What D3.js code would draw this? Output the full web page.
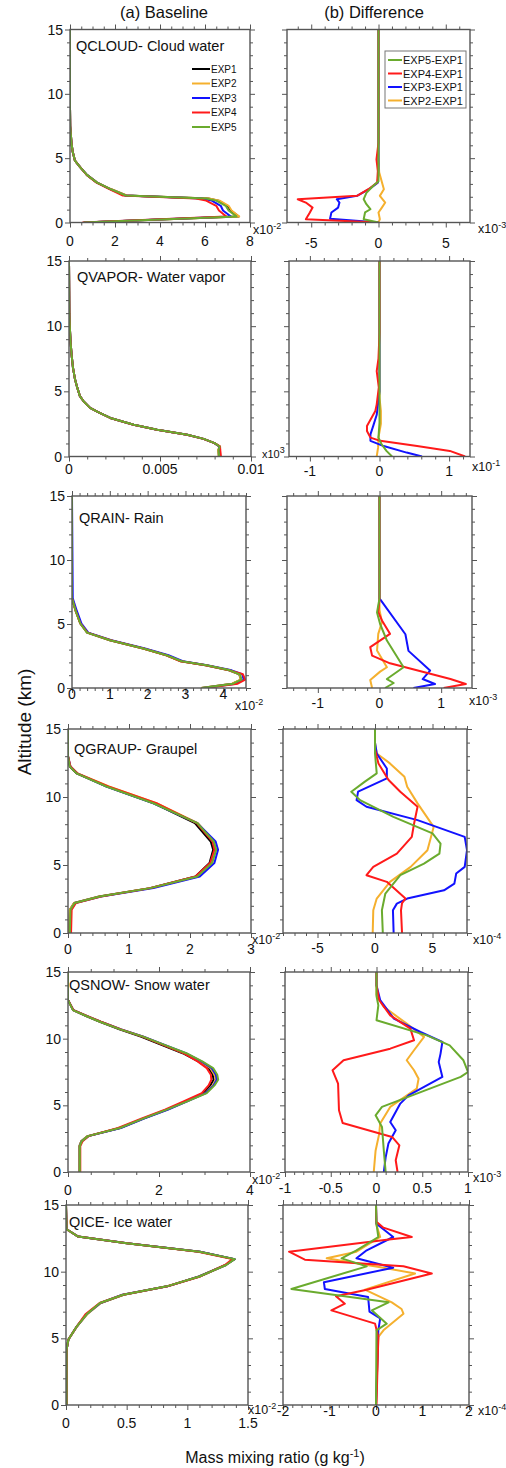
<!DOCTYPE html>
<html>
<head>
<meta charset="utf-8">
<script src="https://cdn.jsdelivr.net/npm/d3@7"></script>
<style>
  body { margin: 0; background: #fff; }
  svg { display: block; }
  text { font-family: "Liberation Sans", Arial, Helvetica, sans-serif; fill: #111; }
</style>
</head>
<body>
<div id="chart"></div>
<script>
// ---- data (altitude in km, mixing ratio in axis units) ----
const altTicks = [0, 5, 10, 15];
const expNames = ["EXP1", "EXP2", "EXP3", "EXP4", "EXP5"];
const diffNames = ["EXP5-EXP1", "EXP4-EXP1", "EXP3-EXP1", "EXP2-EXP1"];

// QCLOUD baseline (x10^-2)
const cloudZ    = [0, 0.47, 0.93, 1.3, 1.7, 1.86, 2.1, 2.6, 3.1, 3.7, 4.3, 4.8, 5.5, 6.1, 7.5, 9, 15];
const cloudExp1 = [0.62, 7.50, 7.15, 7.00, 6.60, 6.15, 2.50, 1.80, 1.20, 0.75, 0.45, 0.22, 0.12, 0.07, 0.01, 0, 0];
const cloudExp2 = [0.62, 7.52, 7.18, 7.05, 6.65, 6.18, 2.52, 1.82, 1.22, 0.75, 0.45, 0.22, 0.12, 0.07, 0.01, 0, 0];
const cloudExp3 = [0.60, 7.15, 6.80, 6.70, 6.30, 5.85, 2.45, 1.78, 1.20, 0.75, 0.45, 0.22, 0.12, 0.07, 0.01, 0, 0];
const cloudExp4 = [0.55, 6.95, 6.62, 6.50, 6.05, 5.60, 2.35, 1.75, 1.18, 0.74, 0.45, 0.22, 0.12, 0.07, 0.01, 0, 0];
const cloudExp5 = [0.60, 7.40, 7.05, 6.92, 6.50, 6.05, 2.48, 1.80, 1.20, 0.75, 0.45, 0.22, 0.12, 0.07, 0.01, 0, 0];
// QCLOUD difference (x10^-3), [altitude, value]
const cloudD5 = [[0,0],[0.26,-1.1],[0.78,-1.0],[1.03,-0.6],[1.42,-0.9],[1.81,-1.1],[2.3,-0.9],[2.84,-0.4],[3.2,0],[15,0]];
const cloudD4 = [[0,0],[0.26,-5.4],[0.78,-5.1],[1.16,-4.9],[1.55,-5.4],[1.81,-6.0],[2.07,-1.6],[2.59,-0.75],[3.1,-0.1],[4.0,-0.05],[4.9,-0.15],[6.2,0],[15,0]];
const cloudD3 = [[0,0],[0.3,-3.6],[0.78,-3.5],[1.16,-3.0],[1.55,-2.9],[1.81,-3.1],[2.07,-1.6],[2.59,-0.7],[3.1,-0.05],[4.5,0],[15,0]];
const cloudD2 = [[0,0],[0.26,0.1],[0.78,0],[1.16,0.25],[1.55,0.5],[2.07,0.1],[2.59,0.4],[3.15,0.25],[3.9,0.05],[5,0],[15,0]];
const cloudTicksA = [0, 2, 4, 6, 8];
const cloudTicksB = [-5, 0, 5];

// QVAPOR baseline (raw axis values)
const vaporZ    = [0, 0.5, 0.77, 1.03, 1.35, 1.67, 2.06, 2.44, 2.96, 3.4, 3.73, 4.2, 4.63, 5.3, 5.92, 6.8, 7.7, 8.7, 9.8, 11, 15];
const vaporExp1 = [0.00823, 0.00821, 0.00827, 0.0080, 0.0074, 0.0065, 0.00485, 0.00356, 0.00227, 0.0016, 0.00116, 0.00082, 0.0006, 0.00045, 0.00033, 0.00022, 0.00015, 0.00009, 0.00005, 0.00002, 0];
const vaporExp2 = [0.00823, 0.00820, 0.00826, 0.0080, 0.0074, 0.0065, 0.00485, 0.00356, 0.00227, 0.0016, 0.00116, 0.00082, 0.0006, 0.00045, 0.00033, 0.00022, 0.00015, 0.00009, 0.00005, 0.00002, 0];
const vaporExp3 = [0.00829, 0.00824, 0.00826, 0.00799, 0.00739, 0.00649, 0.00484, 0.00355, 0.00227, 0.0016, 0.00116, 0.00082, 0.0006, 0.00045, 0.00033, 0.00022, 0.00015, 0.00009, 0.00005, 0.00002, 0];
const vaporExp4 = [0.00835, 0.00831, 0.00830, 0.00799, 0.00738, 0.00648, 0.00483, 0.00354, 0.00226, 0.0016, 0.00116, 0.00082, 0.0006, 0.00045, 0.00033, 0.00022, 0.00015, 0.00009, 0.00005, 0.00002, 0];
const vaporExp5 = [0.00825, 0.00822, 0.00828, 0.0080, 0.0074, 0.0065, 0.00485, 0.00356, 0.00227, 0.0016, 0.00116, 0.00082, 0.0006, 0.00045, 0.00033, 0.00022, 0.00015, 0.00009, 0.00005, 0.00002, 0];
// QVAPOR difference (x10^-1)
const vaporD5 = [[0,0.18],[0.43,0.1],[0.94,0.03],[1.45,-0.015],[2.6,0],[15,0]];
const vaporD4 = [[0,1.23],[0.43,1.01],[0.81,0.54],[1.2,0.01],[1.45,-0.13],[1.96,-0.18],[2.34,-0.18],[3.49,-0.06],[4.0,-0.04],[5.3,-0.01],[6.55,-0.04],[7.5,-0.015],[9.5,0],[15,0]];
const vaporD3 = [[0,0.61],[0.3,0.39],[0.8,0.06],[1.2,-0.13],[1.7,-0.13],[2.35,-0.09],[3.2,-0.04],[5,0],[15,0]];
const vaporD2 = [[0,-0.04],[0.7,-0.02],[1.45,-0.015],[2.5,0.02],[3.5,0.02],[4.5,0],[15,0]];
const vaporTicksA = [0, 0.005, 0.01];
const vaporTicksB = [-1, 0, 1];

// QRAIN baseline (x10^-2)
const rainZ    = [0, 0.34, 0.65, 1.07, 1.38, 1.77, 2.09, 2.56, 3.08, 3.73, 4.33, 5.04, 6.0, 7.0, 15];
const rainExp1 = [3.42, 4.24, 4.47, 4.42, 4.15, 3.53, 2.88, 2.50, 1.88, 1.00, 0.40, 0.22, 0.10, 0, 0];
const rainExp2 = [3.41, 4.23, 4.46, 4.43, 4.16, 3.53, 2.88, 2.50, 1.88, 1.00, 0.40, 0.22, 0.10, 0, 0];
const rainExp3 = [3.48, 4.33, 4.54, 4.50, 4.22, 3.57, 2.93, 2.55, 1.93, 1.04, 0.43, 0.25, 0.13, 0.02, 0];
const rainExp4 = [3.52, 4.38, 4.58, 4.52, 4.17, 3.54, 2.87, 2.49, 1.89, 1.02, 0.41, 0.22, 0.10, 0, 0];
const rainExp5 = [3.43, 4.26, 4.48, 4.44, 4.18, 3.56, 2.90, 2.50, 1.89, 1.01, 0.40, 0.22, 0.10, 0, 0];
// QRAIN difference (x10^-3)
const rainD5 = [[0,0.09],[0.39,0.23],[0.7,0.12],[1.62,0.39],[3.71,0.12],[5.0,0.01],[5.9,-0.04],[7,0],[15,0]];
const rainD4 = [[0,1.04],[0.31,1.4],[0.7,1.15],[1.93,0.17],[2.53,-0.12],[3.19,-0.15],[4.23,0.17],[5.28,0.04],[5.93,-0.02],[7,0],[15,0]];
const rainD3 = [[0,0.55],[0.31,0.9],[0.7,0.7],[1.36,0.82],[2.9,0.47],[4.2,0.42],[7.0,0],[15,0]];
const rainD2 = [[0,-0.12],[0.63,-0.15],[1.28,0.01],[1.62,0.12],[2.93,-0.04],[4.23,-0.02],[5.15,0.04],[6.1,0],[15,0]];
const rainTicksA = [0, 1, 2, 3, 4];
const rainTicksB = [-1, 0, 1];

// QGRAUP baseline (x10^-2)
const graupZ    = [0, 1.71, 2.2, 2.69, 3.3, 4.16, 5.14, 6.12, 6.73, 8.08, 9.54, 10.77, 11.74, 12.24, 13, 15];
const graupExp1 = [0.02, 0.03, 0.10, 0.51, 1.34, 2.09, 2.32, 2.38, 2.34, 2.08, 1.41, 0.64, 0.14, 0.03, 0, 0];
const graupExp2 = [0.02, 0.03, 0.10, 0.51, 1.35, 2.12, 2.36, 2.43, 2.39, 2.13, 1.45, 0.67, 0.16, 0.04, 0, 0];
const graupExp3 = [0.04, 0.05, 0.12, 0.54, 1.40, 2.16, 2.40, 2.46, 2.42, 2.12, 1.40, 0.63, 0.15, 0.04, 0, 0];
const graupExp4 = [0.05, 0.06, 0.13, 0.54, 1.35, 2.09, 2.33, 2.40, 2.37, 2.11, 1.45, 0.66, 0.15, 0.04, 0, 0];
const graupExp5 = [0.03, 0.04, 0.11, 0.52, 1.35, 2.12, 2.36, 2.43, 2.39, 2.12, 1.40, 0.63, 0.14, 0.03, 0, 0];
// QGRAUP difference (x10^-4)
const graupD5 = [[0,0.68],[1.67,0.6],[2.9,0.9],[4.25,2.2],[5.1,4.26],[5.84,5.6],[6.58,5.7],[7.32,5.0],[8.54,1.6],[9.77,-1.3],[10.39,-2.06],[11.13,-0.88],[11.74,0.15],[13.2,0],[15,0]];
const graupD4 = [[0,2.35],[1.67,2.26],[2.2,2.35],[2.53,2.65],[3.76,1.03],[4.25,-0.74],[4.86,-0.15],[5.84,1.9],[7.07,3.2],[8.05,3.4],[9.28,3.7],[10.39,2.2],[11.25,1.18],[12.47,0.3],[13.5,0],[15,0]];
const graupD3 = [[0,1.62],[1.67,1.56],[2.16,1.9],[2.53,2.8],[3.14,6.0],[3.63,6.9],[4.37,7.06],[4.86,7.8],[6.09,8.0],[7.07,7.8],[8.3,3.7],[9.28,-0.74],[9.77,-1.6],[10.39,-1.47],[11.37,1.03],[12.1,1.03],[13.2,0.15],[14,0],[15,0]];
const graupD2 = [[0,-0.2],[1.67,-0.15],[2.53,0.15],[3.76,1.3],[4.86,3.1],[6.09,4.56],[7.8,5.1],[9.53,3.7],[10.75,2.8],[11.49,2.56],[12.47,1.3],[13.2,0.15],[14,0],[15,0]];
const graupTicksA = [0, 1, 2, 3];
const graupTicksB = [-5, 0, 5];

// QSNOW baseline (x10^-2)
const snowZ    = [0, 1.94, 2.3, 2.69, 3.3, 4.0, 4.68, 5.3, 5.92, 6.5, 6.92, 7.3, 7.79, 8.3, 8.91, 9.5, 10.15, 10.7, 11.27, 11.7, 12.14, 12.9, 15];
const snowExp1 = [0.25, 0.25, 0.29, 0.43, 1.14, 1.65, 2.17, 2.58, 2.98, 3.13, 3.20, 3.18, 3.09, 2.86, 2.52, 2.08, 1.60, 1.13, 0.70, 0.40, 0.11, 0, 0];
const snowExp2 = [0.25, 0.25, 0.29, 0.43, 1.14, 1.66, 2.19, 2.61, 3.02, 3.18, 3.25, 3.22, 3.13, 2.89, 2.56, 2.13, 1.65, 1.17, 0.73, 0.42, 0.12, 0, 0];
const snowExp3 = [0.26, 0.26, 0.30, 0.45, 1.16, 1.67, 2.20, 2.62, 3.03, 3.20, 3.27, 3.25, 3.16, 2.93, 2.59, 2.15, 1.66, 1.17, 0.72, 0.41, 0.12, 0, 0];
const snowExp4 = [0.27, 0.27, 0.32, 0.45, 1.10, 1.61, 2.13, 2.54, 2.94, 3.09, 3.15, 3.14, 3.05, 2.85, 2.54, 2.12, 1.64, 1.16, 0.72, 0.41, 0.12, 0, 0];
const snowExp5 = [0.26, 0.26, 0.30, 0.44, 1.14, 1.65, 2.17, 2.62, 3.05, 3.22, 3.30, 3.28, 3.19, 2.95, 2.60, 2.15, 1.65, 1.15, 0.70, 0.40, 0.11, 0, 0];
// QSNOW difference (x10^-3)
const snowD5 = [[0,0.1],[1.6,0.08],[3.38,0.06],[4.25,-0.01],[4.88,0.06],[7.13,0.92],[7.5,1.0],[8.38,0.95],[9.5,0.8],[10.25,0.55],[11.38,0],[12.5,0.02],[13.2,0],[15,0]];
const snowD4 = [[0,0.23],[0.88,0.21],[2.0,0.25],[2.63,0.17],[3.68,-0.37],[4.63,-0.41],[6.63,-0.42],[7.63,-0.48],[8.38,-0.36],[9.25,0.15],[9.88,0.41],[10.75,0.37],[11.75,0.15],[12.88,0.03],[14,0],[15,0]];
const snowD3 = [[0,0.08],[1.1,0.1],[2.13,0.13],[3.13,0.21],[3.75,0.15],[5.13,0.26],[5.75,0.35],[7.13,0.72],[8.25,0.68],[8.88,0.7],[9.75,0.72],[10.5,0.48],[11.5,0.19],[12.9,0.04],[14,0],[15,0]];
const snowD2 = [[0,-0.03],[1.6,-0.01],[2.88,0.03],[3.63,0.04],[4.88,0.15],[6.25,0.44],[7.0,0.46],[7.63,0.41],[8.38,0.33],[9.13,0.41],[10.13,0.52],[11.13,0.33],[12.38,0.08],[13.3,0],[15,0]];
const snowTicksA = [0, 2, 4];
const snowTicksB = [-1, -0.5, 0, 0.5, 1];

// QICE baseline (x10^-2)
const iceZ    = [0, 4.16, 4.91, 5.9, 6.8, 7.65, 8.27, 8.9, 9.64, 10.5, 10.94, 11.5, 12.13, 12.63, 13.18, 15];
const iceExp1 = [0.005, 0.005, 0.02, 0.09, 0.17, 0.285, 0.475, 0.835, 1.095, 1.315, 1.39, 1.105, 0.50, 0.10, 0.005, 0];
const iceExp2 = [0.005, 0.005, 0.02, 0.091, 0.175, 0.287, 0.474, 0.836, 1.10, 1.32, 1.385, 1.10, 0.501, 0.10, 0.005, 0];
const iceExp3 = [0.005, 0.005, 0.02, 0.09, 0.169, 0.284, 0.464, 0.835, 1.10, 1.318, 1.387, 1.103, 0.504, 0.10, 0.005, 0];
const iceExp4 = [0.005, 0.005, 0.02, 0.09, 0.16, 0.277, 0.47, 0.835, 1.107, 1.31, 1.372, 1.09, 0.502, 0.10, 0.005, 0];
const iceExp5 = [0.005, 0.005, 0.02, 0.09, 0.17, 0.28, 0.47, 0.83, 1.10, 1.32, 1.39, 1.10, 0.50, 0.10, 0.005, 0];
// QICE difference (x10^-4)
const iceD5 = [[0,0],[5.6,0.01],[6.1,0.23],[7.1,-0.09],[7.7,0.27],[8.7,-1.82],[10.4,-0.2],[11.0,-0.74],[11.6,-0.42],[12.6,0.05],[13.6,0.01],[15,0]];
const iceD4 = [[0,0.01],[5.1,0.05],[6.1,-0.02],[7.1,-0.96],[7.6,-0.67],[8.15,-0.86],[8.65,-0.2],[9.86,1.2],[10.4,0.59],[10.9,-1.53],[11.5,-1.87],[12.4,0.23],[12.6,0.77],[13.3,0.16],[13.75,0.01],[15,0]];
const iceD3 = [[0,0],[5.6,0.05],[6.5,0.09],[7.0,-0.14],[8.1,-0.17],[8.7,-1.1],[9.2,-1.12],[10.3,0.37],[11.0,-0.42],[11.6,-0.2],[12.6,0.37],[13.6,0.01],[15,0]];
const iceD2 = [[0,0],[5.1,0.05],[5.6,0.16],[6.85,0.59],[7.2,0.55],[7.7,0.34],[8.65,-0.24],[9.86,0.84],[10.3,0.16],[11.0,-1.06],[11.5,-0.42],[12.6,0.09],[13.6,0],[15,0]];
const iceTicksA = [0, 0.5, 1, 1.5];
const iceTicksB = [-2, -1, 0, 1, 2];

const species = [
  { label: "QCLOUD- Cloud water", z: cloudZ, base: [cloudExp1, cloudExp2, cloudExp3, cloudExp4, cloudExp5],
    diff: [cloudD2, cloudD3, cloudD4, cloudD5], domA: [0, 8], domB: [-6.8, 6.8],
    ticksA: cloudTicksA, ticksB: cloudTicksB, minorA: 0.5, minorB: 1, expA: "-2", expB: "-3" },
  { label: "QVAPOR- Water vapor", z: vaporZ, base: [vaporExp1, vaporExp2, vaporExp3, vaporExp4, vaporExp5],
    diff: [vaporD2, vaporD3, vaporD4, vaporD5], domA: [0, 0.01], domB: [-1.3, 1.3],
    ticksA: vaporTicksA, ticksB: vaporTicksB, minorA: 0.001, minorB: 0.2, expA: "3", expB: "-1" },
  { label: "QRAIN- Rain", z: rainZ, base: [rainExp1, rainExp2, rainExp3, rainExp4, rainExp5],
    diff: [rainD2, rainD3, rainD4, rainD5], domA: [0, 4.6], domB: [-1.5, 1.5],
    ticksA: rainTicksA, ticksB: rainTicksB, minorA: 0.2, minorB: 0.2, expA: "-2", expB: "-3" },
  { label: "QGRAUP- Graupel", z: graupZ, base: [graupExp1, graupExp2, graupExp3, graupExp4, graupExp5],
    diff: [graupD2, graupD3, graupD4, graupD5], domA: [0, 3], domB: [-8, 8],
    ticksA: graupTicksA, ticksB: graupTicksB, minorA: 0.2, minorB: 1, expA: "-2", expB: "-4" },
  { label: "QSNOW- Snow water", z: snowZ, base: [snowExp1, snowExp2, snowExp3, snowExp4, snowExp5],
    diff: [snowD2, snowD3, snowD4, snowD5], domA: [0, 4], domB: [-1, 1],
    ticksA: snowTicksA, ticksB: snowTicksB, minorA: 0.5, minorB: 0.1, expA: "-2", expB: "-3" },
  { label: "QICE- Ice water", z: iceZ, base: [iceExp1, iceExp2, iceExp3, iceExp4, iceExp5],
    diff: [iceD2, iceD3, iceD4, iceD5], domA: [0, 1.5], domB: [-2, 2],
    ticksA: iceTicksA, ticksB: iceTicksB, minorA: 0.1, minorB: 0.2, expA: "-2", expB: "-4" }
];

// ---- layout (pixel boxes of each row, label offsets) ----
// eL / eR: [dx from right edge, dy from bottom edge, font size] of the exponent labels
const rows = [
  { top: 29.5, bot: 222.5, L: [70, 250], R: [287, 470], labX: 6, lab: 21, tL: 23, tR: 25, eL: [3, 11, 12.5], eR: [8, 10, 12.5] },
  { top: 261,  bot: 456.5, L: [69, 251], R: [289, 470], labX: 8, lab: 21, tL: 17, tR: 19, eL: [11, 1.5, 11], eR: [2, 14, 12.5] },
  { top: 496,  bot: 688,   L: [72, 246], R: [287, 472], labX: 7, lab: 27, tL: 11, tR: 20, eL: [-11, 22, 12.5], eR: [-3, 17, 12.5] },
  { top: 729,  bot: 933,   L: [68, 251], R: [283, 467], labX: 6, lab: 25, tL: 21, tR: 20, eL: [1, 11, 12.5], eR: [6, 11, 12.5] },
  { top: 972,  bot: 1172,  L: [68, 250], R: [285, 468], labX: 1, lab: 18, tL: 23, tR: 21, eL: [2, 12, 12.5], eR: [5, 10, 12.5] },
  { top: 1205, bot: 1405,  L: [66, 248], R: [283, 469], labX: 3, lab: 22, tL: 23, tR: 11, eL: [0, 9, 12.5],  eR: [9, 10, 12.5] }
];

const expColors = ["#000000", "#f5b02e", "#1212ff", "#ff1a1a", "#6aab2e"];
const diffColors = ["#f5b02e", "#1212ff", "#ff1a1a", "#6aab2e"]; // EXP2, EXP3, EXP4, EXP5 minus EXP1
const axisColor = "#555";

const svg = d3.select("#chart").append("svg")
    .attr("width", 506)
    .attr("height", 1468);

const fmt = v => String(+v.toFixed(6));

function minorTicks(domain, step, major) {
    const out = [];
    for (let k = Math.ceil(domain[0] / step - 1e-6); k * step <= domain[1] + 1e-9; k++) {
        const v = +(k * step).toFixed(6);
        if (!major.some(m => Math.abs(m - v) < 1e-9)) out.push(v);
    }
    return out;
}

let clipId = 0;

function drawPanel(row, xr, domain, major, minorStep, showY, tickDy, expOff, expText, lines) {
    const x = d3.scaleLinear().domain(domain).range(xr);
    const y = d3.scaleLinear().domain([0, 15]).range([row.bot, row.top]);
    const g = svg.append("g");

    const minorX = minorTicks(domain, minorStep, major);
    const minorY = minorTicks([0, 15], 1, altTicks);

    const tickGroup = (axis, tx, ty) => {
        g.append("g")
            .attr("transform", `translate(${tx},${ty})`)
            .call(axis.tickFormat("").tickSizeOuter(0))
            .call(s => s.select(".domain").remove())
            .call(s => s.selectAll("line").attr("stroke", axisColor).attr("stroke-width", 1));
    };
    tickGroup(d3.axisBottom(x).tickValues(major).tickSize(5), 0, row.bot);
    tickGroup(d3.axisBottom(x).tickValues(minorX).tickSize(3), 0, row.bot);
    tickGroup(d3.axisTop(x).tickValues(major).tickSize(5), 0, row.top);
    tickGroup(d3.axisTop(x).tickValues(minorX).tickSize(3), 0, row.top);
    tickGroup(d3.axisLeft(y).tickValues(altTicks).tickSize(5), xr[0], 0);
    tickGroup(d3.axisLeft(y).tickValues(minorY).tickSize(3), xr[0], 0);
    tickGroup(d3.axisRight(y).tickValues(altTicks).tickSize(5), xr[1], 0);
    tickGroup(d3.axisRight(y).tickValues(minorY).tickSize(3), xr[1], 0);

    // curves
    const id = "clip" + (clipId++);
    g.append("clipPath").attr("id", id)
        .append("rect")
        .attr("x", xr[0]).attr("y", row.top)
        .attr("width", xr[1] - xr[0]).attr("height", row.bot - row.top);
    const line = d3.line().x(d => x(d[1])).y(d => y(d[0]));
    g.append("g").attr("clip-path", `url(#${id})`)
        .selectAll("path")
        .data(lines)
        .join("path")
        .attr("d", d => line(d.pts))
        .attr("fill", "none")
        .attr("stroke", d => d.color)
        .attr("stroke-width", 2)
        .attr("stroke-linejoin", "round");

    // frame
    g.append("rect")
        .attr("x", xr[0]).attr("y", row.top)
        .attr("width", xr[1] - xr[0]).attr("height", row.bot - row.top)
        .attr("fill", "none")
        .attr("stroke", axisColor)
        .attr("stroke-width", 1.4);

    // x tick labels
    g.selectAll("text.xt")
        .data(major)
        .join("text")
        .attr("class", "xt")
        .attr("x", d => x(d))
        .attr("y", row.bot + tickDy)
        .attr("text-anchor", "middle")
        .style("font-size", "14px")
        .text(fmt);

    if (showY) {
        g.selectAll("text.yt")
            .data(altTicks)
            .join("text")
            .attr("class", "yt")
            .attr("x", xr[0] - 7)
            .attr("y", d => y(d) + 5)
            .attr("text-anchor", "end")
            .style("font-size", "14px")
            .text(d => d);
    }

    // exponent label
    const et = g.append("text")
        .attr("x", xr[1] + expOff[0])
        .attr("y", row.bot + expOff[1])
        .style("font-size", expOff[2] + "px");
    et.append("tspan").text("x10");
    et.append("tspan").attr("dy", -5).style("font-size", "9px").text(expText);

    return { x, y, g };
}

species.forEach((sp, i) => {
    const row = rows[i];
    const baseLines = sp.base.map((vals, k) => ({
        color: expColors[k],
        pts: sp.z.map((z, j) => [z, vals[j]])
    }));
    drawPanel(row, row.L, sp.domA, sp.ticksA, sp.minorA, true, row.tL, row.eL, sp.expA, baseLines);

    const diffLines = sp.diff.map((pts, k) => ({ color: diffColors[k], pts }));
    drawPanel(row, row.R, sp.domB, sp.ticksB, sp.minorB, false, row.tR, row.eR, sp.expB, diffLines);

    svg.append("text")
        .attr("x", row.L[0] + row.labX)
        .attr("y", row.top + row.lab)
        .style("font-size", "14.5px")
        .text(sp.label);
});

// ---- legends (first row) ----
const legA = svg.append("g");
expNames.forEach((name, k) => {
    const yy = 69 + k * 14.5;
    legA.append("line")
        .attr("x1", 192).attr("x2", 210)
        .attr("y1", yy).attr("y2", yy)
        .attr("stroke", expColors[k]).attr("stroke-width", 2);
    legA.append("text")
        .attr("x", 211).attr("y", yy + 3.5)
        .style("font-size", "10px")
        .text(name);
});

const legB = svg.append("g");
legB.append("rect")
    .attr("x", 385).attr("y", 51)
    .attr("width", 81).attr("height", 57)
    .attr("fill", "#fff")
    .attr("stroke", "#777").attr("stroke-width", 1);
const legBColors = [diffColors[3], diffColors[2], diffColors[1], diffColors[0]];
diffNames.forEach((name, k) => {
    const yy = 60 + k * 13.5;
    legB.append("line")
        .attr("x1", 388).attr("x2", 402)
        .attr("y1", yy).attr("y2", yy)
        .attr("stroke", legBColors[k]).attr("stroke-width", 2);
    legB.append("text")
        .attr("x", 403).attr("y", yy + 4)
        .style("font-size", "11px")
        .text(name);
});

// ---- titles ----
svg.append("text").attr("x", 164).attr("y", 18).attr("text-anchor", "middle")
    .style("font-size", "16.5px").text("(a) Baseline");
svg.append("text").attr("x", 374).attr("y", 18).attr("text-anchor", "middle")
    .style("font-size", "16.5px").text("(b) Difference");

svg.append("text")
    .attr("transform", "translate(31,722) rotate(-90)")
    .attr("text-anchor", "middle")
    .style("font-size", "19px")
    .text("Altitude (km)");

const xl = svg.append("text")
    .attr("x", 275).attr("y", 1463)
    .attr("text-anchor", "middle")
    .style("font-size", "16px");
xl.append("tspan").text("Mass mixing ratio (g kg");
xl.append("tspan").attr("dy", -6).style("font-size", "11px").text("-1");
xl.append("tspan").attr("dy", 6).text(")");
</script>
</body>
</html>
